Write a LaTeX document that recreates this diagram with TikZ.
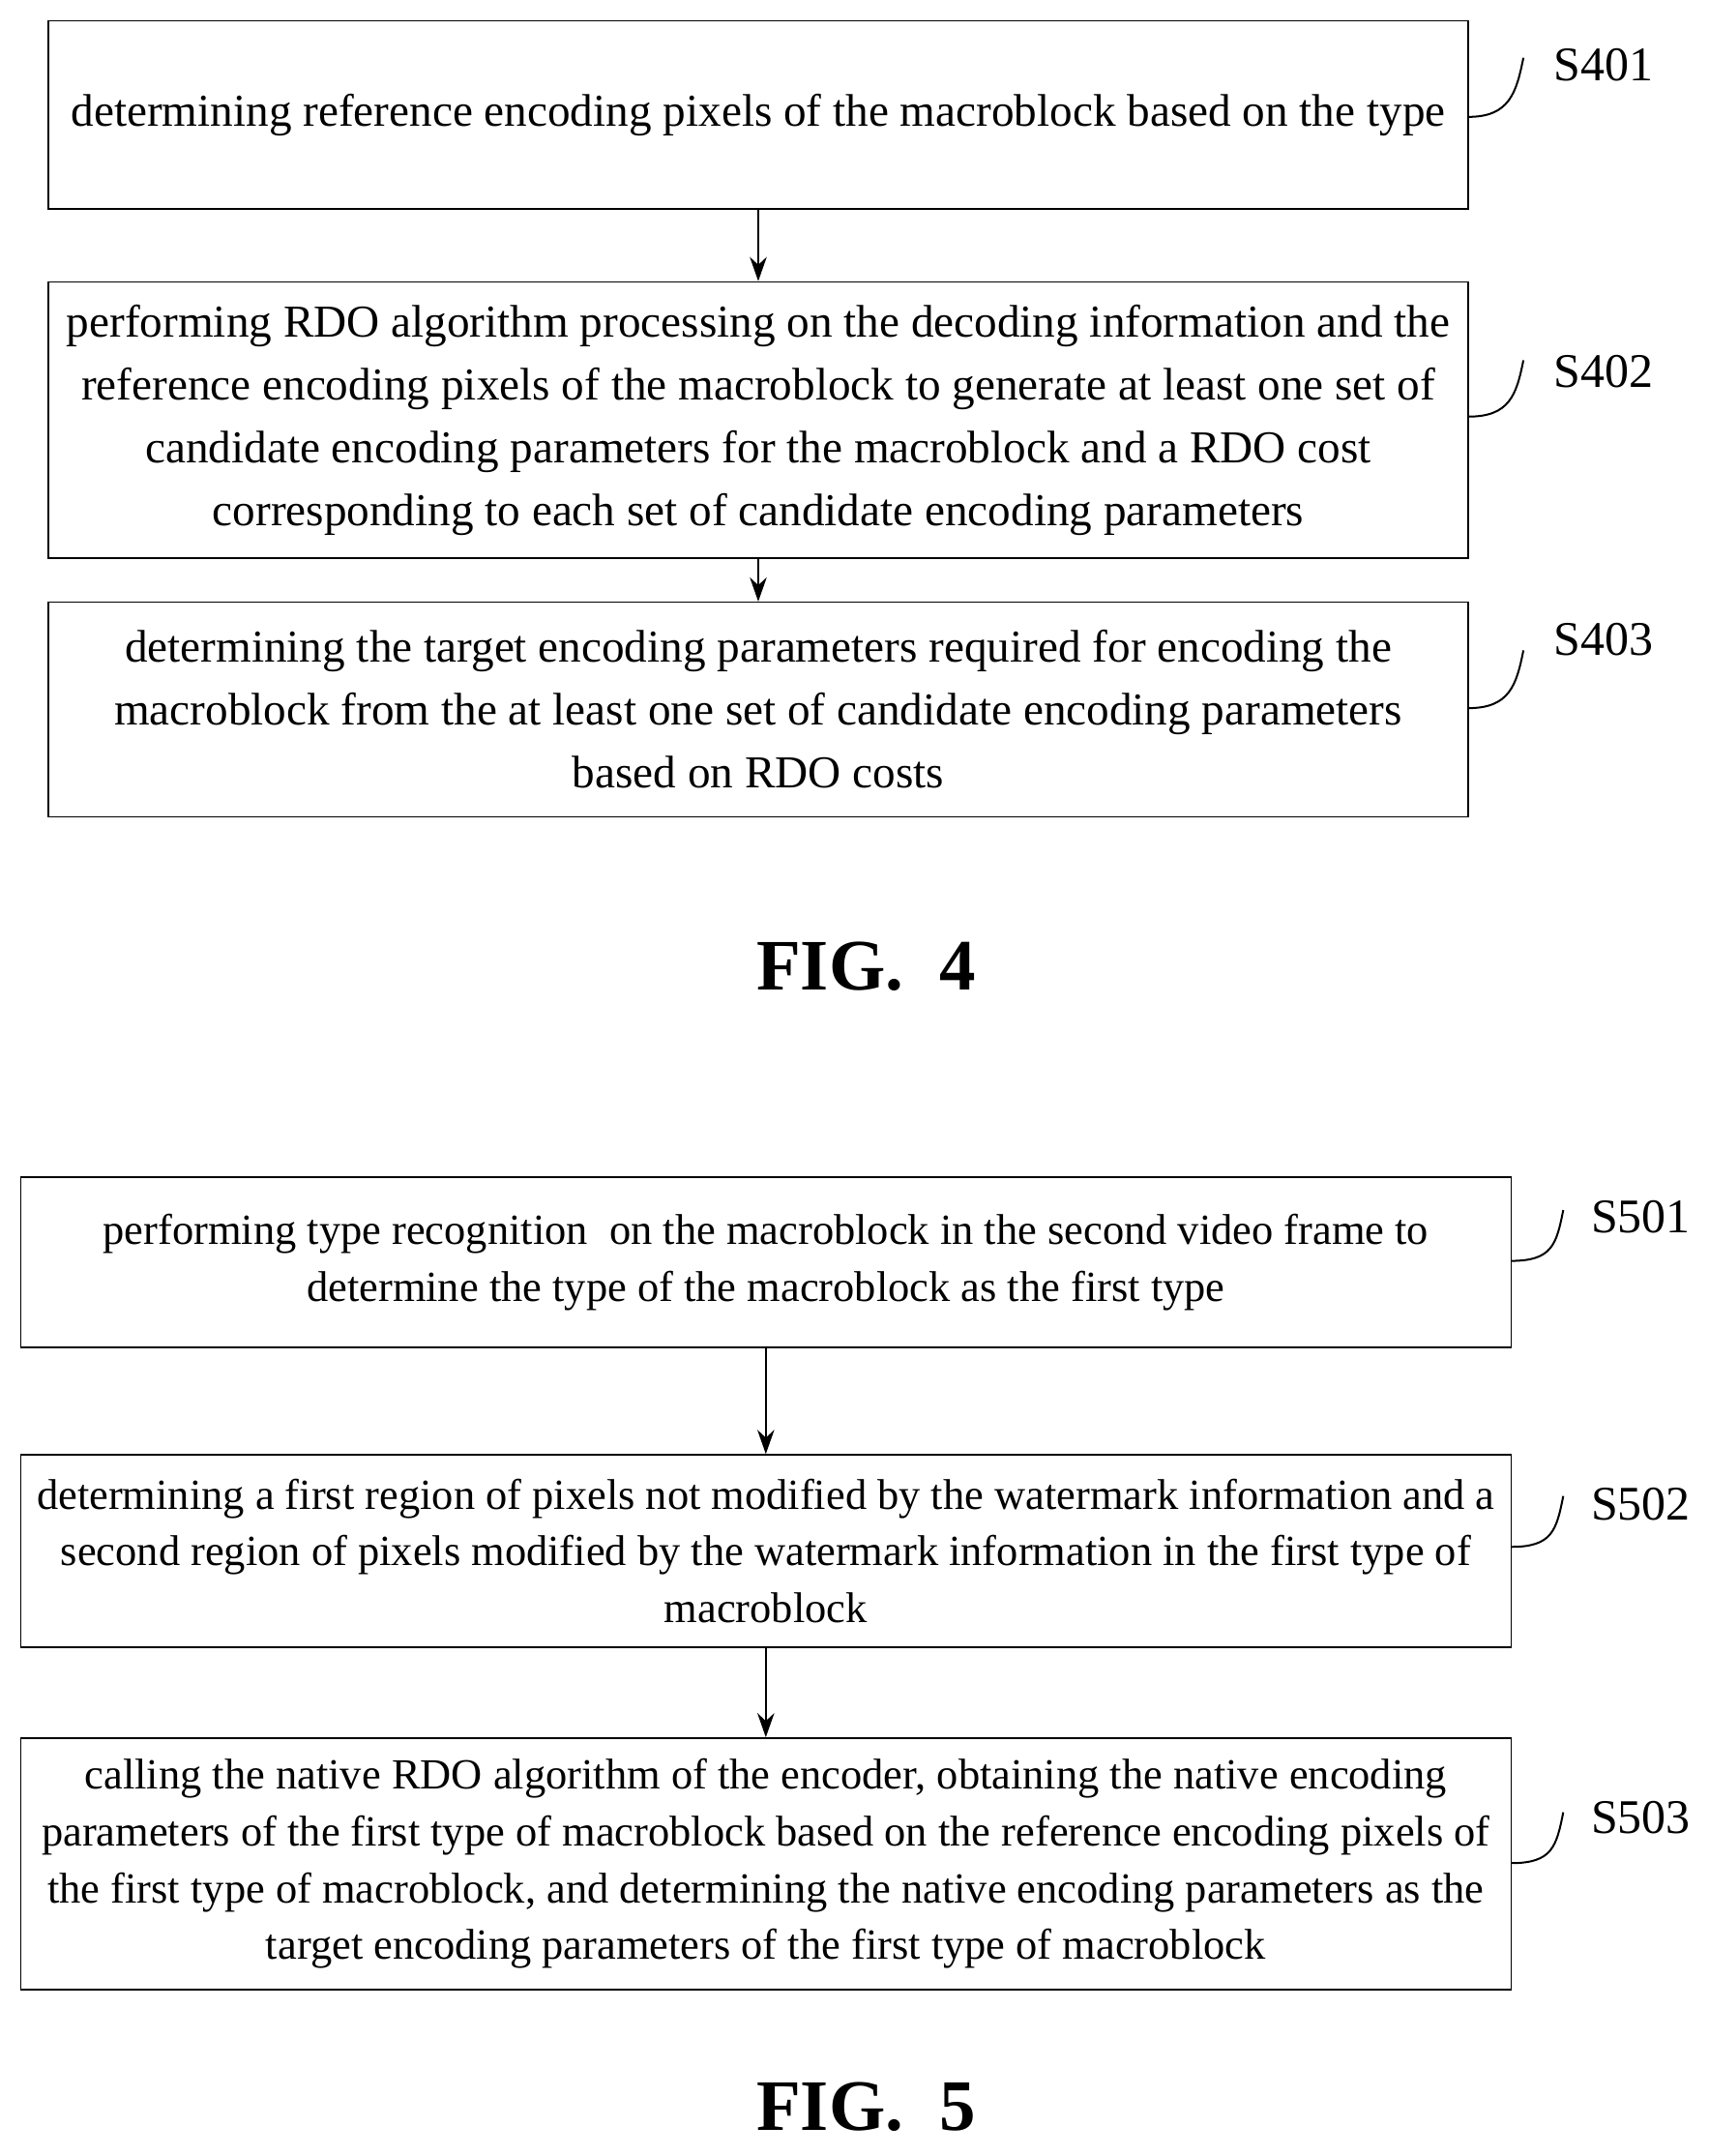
\documentclass[tikz,border=0pt]{standalone}
\usepackage{fontspec}
\setmainfont{Liberation Serif}
\usetikzlibrary{arrows.meta}
\begin{document}
\begin{tikzpicture}[x=0.02cm,y=-0.02cm,
  boxa/.style={draw,line width=0.6pt,align=center,inner sep=0pt,font=\fontsize{18.9}{26}\selectfont},
  boxb/.style={draw,line width=0.6pt,align=center,inner sep=0pt,font=\fontsize{17.8}{23.5}\selectfont},
  lab/.style={font=\fontsize{20}{22}\selectfont},
  arr/.style={-{Stealth[length=10pt,width=7pt]},line width=0.9pt},
  crv/.style={line width=0.8pt},
  figl/.style={font=\bfseries\fontsize{30}{34}\selectfont}]
\useasboundingbox (0,0) rectangle (1243,1568);
% FIG 4
\node[boxa,minimum width=1033*0.02cm,minimum height=137*0.02cm] (s401) at (551.5,83.5) {determining reference encoding pixels of the macroblock based on the type};
\node[boxa,minimum width=1033*0.02cm,minimum height=201*0.02cm] (s402) at (551.5,305.5) {performing RDO algorithm processing on the decoding information and the\\reference encoding pixels of the macroblock to generate at least one set of\\candidate encoding parameters for the macroblock and a RDO cost\\corresponding to each set of candidate encoding parameters};
\node[boxa,minimum width=1033*0.02cm,minimum height=156*0.02cm] (s403) at (551.5,516) {determining the target encoding parameters required for encoding the\\macroblock from the at least one set of candidate encoding parameters\\based on RDO costs};
\draw[arr] (s401) -- (s402);
\draw[arr] (s402) -- (s403);
\node[lab,anchor=west] (l401) at (1124,47) {S401};
\node[lab,anchor=west] (l402) at (1124,270) {S402};
\node[lab,anchor=west] (l403) at (1124,465) {S403};
\coordinate (a1) at (1068,85); \coordinate (b1) at (1108,42);
\coordinate (a2) at (1068,303); \coordinate (b2) at (1108,262);
\coordinate (a3) at (1068,515); \coordinate (b3) at (1108,473);
\foreach \i in {1,2,3}{\draw[crv] (a\i) .. controls +(30,0) and +(-5,25) .. (b\i);}
\node[figl] (f4) at (630,703) {FIG.\ \ 4};
% FIG 5
\node[boxb,minimum width=1084*0.02cm,minimum height=124*0.02cm] (s501) at (557,918) {performing type recognition\ \ on the macroblock in the second video frame to\\determine the type of the macroblock as the first type};
\node[boxb,minimum width=1084*0.02cm,minimum height=140*0.02cm] (s502) at (557,1128) {determining a first region of pixels not modified by the watermark information and a\\second region of pixels modified by the watermark information in the first type of\\macroblock};
\node[boxb,minimum width=1084*0.02cm,minimum height=183*0.02cm] (s503) at (557,1355.5) {calling the native RDO algorithm of the encoder, obtaining the native encoding\\parameters of the first type of macroblock based on the reference encoding pixels of\\the first type of macroblock, and determining the native encoding parameters as the\\target encoding parameters of the first type of macroblock};
\draw[arr] (s501) -- (s502);
\draw[arr] (s502) -- (s503);
\node[lab,anchor=west] (l501) at (1151,885) {S501};
\node[lab,anchor=west] (l502) at (1151,1094) {S502};
\node[lab,anchor=west] (l503) at (1151,1322) {S503};
\coordinate (c1) at (1099,917); \coordinate (d1) at (1137,880);
\coordinate (c2) at (1099,1125); \coordinate (d2) at (1137,1088);
\coordinate (c3) at (1099,1355); \coordinate (d3) at (1137,1318);
\foreach \i in {1,2,3}{\draw[crv] (c\i) .. controls +(30,0) and +(-5,25) .. (d\i);}
\node[figl] (f5) at (630,1532) {FIG.\ \ 5};
\end{tikzpicture}
\end{document}
